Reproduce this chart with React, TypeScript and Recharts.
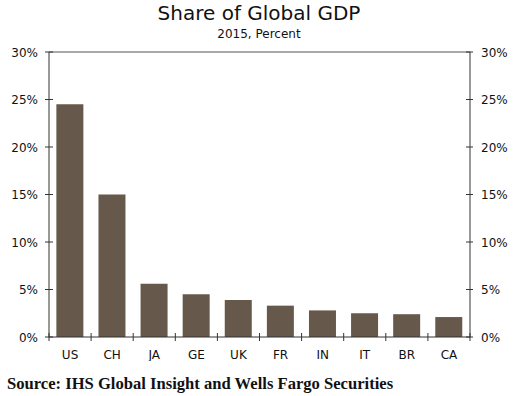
import React from 'react';
import { ComposedChart, Bar, Line, XAxis, YAxis, ReferenceLine } from 'recharts';

const countries = ['US', 'CH', 'JA', 'GE', 'UK', 'FR', 'IN', 'IT', 'BR', 'CA'];
const gdpShare = [24.5, 15.0, 5.6, 4.5, 3.9, 3.3, 2.8, 2.5, 2.4, 2.1];
const yTicks = [0, 5, 10, 15, 20, 25, 30];

const data = countries.map((c, i) => ({ name: c, share: gdpShare[i] }));

const PLOT_W = 421;
const AXIS = '#333';
const FONT = '"DejaVu Sans", Verdana, sans-serif';

const LeftTick = (props: any) => {
  const { x, y, payload } = props;
  return (
    <g>
      <line x1={x + 4} x2={x + 12} y1={y} y2={y} stroke={AXIS} />
      <text x={x - 3} y={y} dy={4.5} textAnchor="end" fontSize={12} fontFamily={FONT} fill="#111">
        {payload.value}%
      </text>
    </g>
  );
};

const RightTick = (props: any) => {
  const { x, y, payload } = props;
  return (
    <g>
      <line x1={x - 12} x2={x - 5} y1={y} y2={y} stroke={AXIS} />
      <text x={x + 3} y={y} dy={4.5} textAnchor="start" fontSize={12} fontFamily={FONT} fill="#111">
        {payload.value}%
      </text>
    </g>
  );
};

const BottomTick = (props: any) => {
  const { x, y, payload, index } = props;
  const band = PLOT_W / countries.length;
  const base = y - 8;
  return (
    <g>
      <line x1={x - band / 2} x2={x - band / 2} y1={base - 4} y2={base + 4} stroke={AXIS} />
      {index === countries.length - 1 && (
        <line x1={x + band / 2} x2={x + band / 2} y1={base - 4} y2={base + 4} stroke={AXIS} />
      )}
      <text x={x} y={base + 22} textAnchor="middle" fontSize={12} fontFamily={FONT} fill="#111">
        {payload.value}
      </text>
    </g>
  );
};

export default function App() {
  return (
    <div style={{ position: 'absolute', left: 0, top: 0, width: 518, height: 396, background: '#fff' }}>
      <div style={{ position: 'absolute', left: 0, top: 2, width: 518, textAlign: 'center', fontFamily: FONT, fontSize: 20, color: '#111', lineHeight: '22px' }}>
        Share of Global GDP
      </div>
      <div style={{ position: 'absolute', left: 0, top: 27, width: 518, textAlign: 'center', fontFamily: FONT, fontSize: 12, color: '#111', lineHeight: '14px' }}>
        2015, Percent
      </div>
      <div style={{ position: 'absolute', left: 0, top: 0 }}>
        <ComposedChart
          width={518}
          height={361}
          data={data}
          margin={{ top: 52, right: 0, left: 0, bottom: 0 }}
          barCategoryGap="17.5%"
        >
          <XAxis
            dataKey="name"
            xAxisId="bottom"
            stroke={AXIS}
            tickLine={false}
            height={24}
            tick={<BottomTick />}
            interval={0}
          />
          <YAxis
            yAxisId="left"
            domain={[0, 30]}
            ticks={yTicks}
            width={49}
            stroke={AXIS}
            tickLine={false}
            tick={<LeftTick />}
            interval={0}
          />
          <YAxis
            yAxisId="right"
            orientation="right"
            domain={[0, 30]}
            ticks={yTicks}
            width={48}
            stroke={AXIS}
            tickLine={false}
            tick={<RightTick />}
            interval={0}
          />
          <ReferenceLine y={30} xAxisId="bottom" yAxisId="left" stroke="#555" />
          <Bar dataKey="share" xAxisId="bottom" yAxisId="left" fill="#66594B" isAnimationActive={false} />
          <Line dataKey="share" xAxisId="bottom" yAxisId="right" stroke="none" dot={false} activeDot={false} isAnimationActive={false} />
        </ComposedChart>
      </div>
      <div style={{ position: 'absolute', left: 7, top: 374, fontFamily: '"Liberation Serif", "Times New Roman", serif', fontWeight: 'bold', fontSize: 16.6, color: '#111', whiteSpace: 'nowrap' }}>
        Source: IHS Global Insight and Wells Fargo Securities
      </div>
    </div>
  );
}
